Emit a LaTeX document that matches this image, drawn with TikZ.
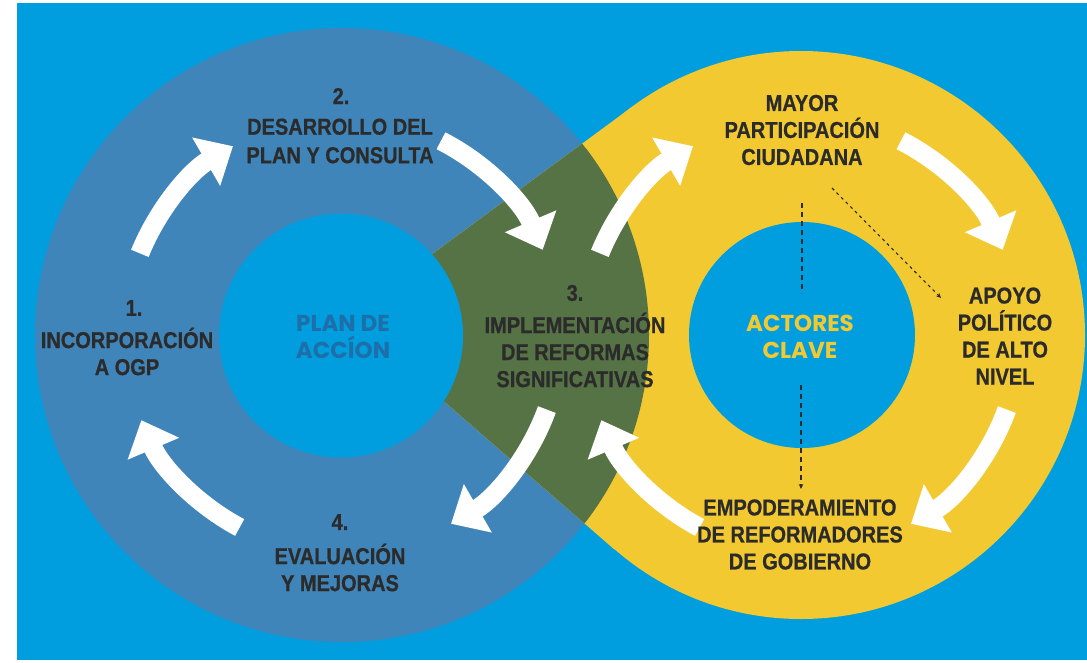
\documentclass[tikz,border=0pt]{standalone}
\usepackage{fontspec}
\newfontfamily\labfont{Liberation Sans}[FakeStretch=0.87, BoldFeatures={FakeBold=0.7}]
\newfontfamily\geofont{Poppins}
\usetikzlibrary{arrows.meta}
\definecolor{bgc}{HTML}{009EDE}
\definecolor{steel}{HTML}{4085B9}
\definecolor{yel}{HTML}{F3C931}
\definecolor{grn}{HTML}{567345}
\definecolor{txtc}{HTML}{2B2B2B}
\definecolor{plantxt}{HTML}{1E6EAA}
\tikzset{
  lab/.style={font=\labfont\bfseries\fontsize{23}{27}\selectfont, text=txtc, align=center, inner sep=0pt},
  geo/.style={font=\geofont\bfseries\fontsize{23}{27}\selectfont, align=center, inner sep=0pt},
  cyc/.style={draw=white, line width=19pt, -{Triangle[width=54pt,length=31pt]}},
  dsh/.style={draw=txtc, line width=1.1pt, dash pattern=on 5pt off 4pt},
  dshb/.style={draw=txtc, line width=1.1pt, dash pattern=on 3pt off 3.5pt},
  smalltip/.style={-{Stealth[length=5pt,width=4.5pt]}}
}
\begin{document}
\begin{tikzpicture}[x=1pt,y=-1pt]
\useasboundingbox (0,0) rectangle (1087,662);
\fill[white] (0,0) rectangle (1087,662);
\fill[bgc] (17,3) rectangle (1087,660);
% geometry
\coordinate (cL) at (342,335);
\coordinate (cR) at (802,335);
\coordinate (apex) at (347,317);
\coordinate (tA) at (632.5,106.5);
\coordinate (tB) at (614.7,549.7);
\fill[steel] (cL) circle[radius=307];
\fill[yel] (801,335) circle[radius=284];
\fill[yel] (apex) -- (tA) -- (tB) -- cycle;
\begin{scope}
  \clip (cL) circle[radius=307];
  \fill[grn] (801,335) circle[radius=284];
  \fill[grn] (apex) -- (tA) -- (tB) -- cycle;
\end{scope}
\fill[bgc] (341,335.5) circle[radius=122];
\fill[bgc] (cR) circle[radius=113];
% dashed connectors
\coordinate (dva) at (802,203);
\coordinate (dvb) at (802,293);
\coordinate (dvc) at (801,385);
\coordinate (dvd) at (801,489);
\coordinate (dda) at (832,188);
\coordinate (ddb) at (941,298);
\draw[dsh] (dva) -- (dvb);
\draw[dsh, smalltip] (dvc) -- (dvd);
\draw[dshb, smalltip] (dda) -- (ddb);
% cycle arrows, left
\coordinate (la) at ([shift={(-158:218)}]cL);
\coordinate (lb) at ([shift={(-63:218)}]cL);
\coordinate (lc) at ([shift={(20:218)}]cL);
\coordinate (ld) at ([shift={(118:218)}]cL);
\draw[cyc] (la) arc[start angle=-158, end angle=-120, radius=218];
\draw[cyc] (lb) arc[start angle=-63, end angle=-23, radius=218];
\draw[cyc] (lc) arc[start angle=20, end angle=60, radius=218];
\draw[cyc] (ld) arc[start angle=118, end angle=157, radius=218];
% cycle arrows, right
\coordinate (ra) at ([shift={(-158:218)}]cR);
\coordinate (rb) at ([shift={(-63:218)}]cR);
\coordinate (rc) at ([shift={(20:218)}]cR);
\coordinate (rd) at ([shift={(118:218)}]cR);
\draw[cyc] (ra) arc[start angle=-158, end angle=-120, radius=218];
\draw[cyc] (rb) arc[start angle=-63, end angle=-23, radius=218];
\draw[cyc] (rc) arc[start angle=20, end angle=60, radius=218];
\draw[cyc] (rd) arc[start angle=118, end angle=157, radius=218];
% labels
\node[lab] (n1) at (134,308) {1.};
\node[lab] (l1) at (127,351.5) {INCORPORACIÓN\\A OGP};
\node[lab] (n2) at (341,96) {2.};
\node[lab, font=\labfont\bfseries\fontsize{23}{28.5}\selectfont] (l2) at (340,141) {DESARROLLO DEL\\PLAN Y CONSULTA};
\node[lab] (n3) at (575,293) {3.};
\node[lab] (l3) at (575,350) {IMPLEMENTACIÓN\\DE REFORMAS\\SIGNIFICATIVAS};
\node[lab] (n4) at (340,522) {4.};
\node[lab] (l4) at (340,567.5) {EVALUACIÓN\\Y MEJORAS};
\node[lab] (mayor) at (802,130) {MAYOR\\PARTICIPACIÓN\\CIUDADANA};
\node[lab] (apoyo) at (1005,336) {APOYO\\POLÍTICO\\DE ALTO\\NIVEL};
\node[lab] (empo) at (800,534.5) {EMPODERAMIENTO\\DE REFORMADORES\\DE GOBIERNO};
\node[geo, text=plantxt] (plan) at (343,336.5) {PLAN DE\\ACCÍON};
\node[geo, text=yel] (actores) at (800,336.5) {ACTORES\\CLAVE};
\end{tikzpicture}
\end{document}
